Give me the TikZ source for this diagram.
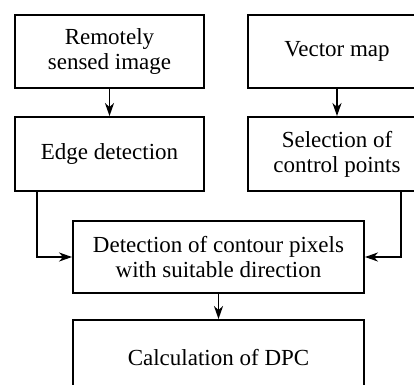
\documentclass[tikz,border=0pt]{standalone}
\usepackage{fontspec}
\setmainfont{Liberation Serif}
\usetikzlibrary{arrows.meta, calc}

\begin{document}
\begin{tikzpicture}[x=1pt, y=-1pt, line width=1.9pt,
    box/.style={draw, align=center, font=\fontsize{23}{25}\selectfont},
    arr/.style={-{Stealth[length=13pt, width=9pt, inset=4pt]}}]
            \useasboundingbox (0,0) rectangle (414,384);
            \clip (0,0) rectangle (414,384);

            % top row
            \node[box, minimum width=189pt, minimum height=73pt] (remote) at (109.5, 51.5) {Remotely\\sensed image};
            \node[box, minimum width=178pt, minimum height=73pt] (vector) at (337, 51.5) {Vector map};

            % second row
            \node[box, minimum width=189pt, minimum height=74pt] (edge) at (109.5, 154) {Edge detection};
            \node[box, minimum width=178pt, minimum height=74pt] (select) at (337, 154) {Selection of\\control points};

            % lower boxes
            \node[box, minimum width=291pt, minimum height=72pt] (detect) at (218.5, 257) {Detection of contour pixels\\with suitable direction};
            \node[box, minimum width=291pt, minimum height=76pt] (dpc) at (218.5, 358) {Calculation of DPC};

            \draw[arr] (remote.south) -- (edge.north);
            \draw[arr] (vector.south) -- (select.north);
            \draw[arr] ($(edge.south west)+(23,0)$) |- (detect.west);
            \draw[arr] ($(select.south west)+(154,0)$) |- (detect.east);
            \draw[arr] (detect.south) -- (dpc.north);
        \end{tikzpicture}
\end{document}
